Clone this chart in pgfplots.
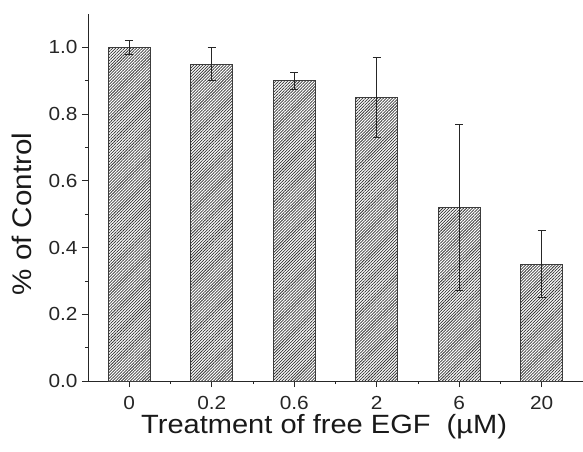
\documentclass[border=0pt]{standalone}
\usepackage{fontspec}
\setmainfont{Liberation Sans}[FakeStretch=1.1]
\usepackage{pgfplots}
\pgfplotsset{compat=1.18}
\usetikzlibrary{patterns.meta}
\definecolor{barline}{RGB}{60,60,60}
\begin{document}
\begin{tikzpicture}
\begin{axis}[
  scale only axis,
  width=495bp, height=367bp,
  xmin=-0.5, xmax=5.5,
  ymin=0, ymax=1.1,
  axis lines=left,
  axis line style={-, line width=0.9bp, black!85},
  xtick={0,1,2,3,4,5},
  xticklabels={0,0.2,0.6,2,6,20},
  minor xtick={0.5,1.5,2.5,3.5,4.5},
  ytick={0,0.2,0.4,0.6,0.8,1.0},
  minor ytick={0.1,0.3,0.5,0.7,0.9},
  yticklabel style={/pgf/number format/fixed, /pgf/number format/fixed zerofill, /pgf/number format/precision=1, xshift=-1bp},
  /pgf/number format/assume math mode=true,
  tick align=outside,
  major tick length=6bp,
  minor tick length=3bp,
  tick style={line width=0.8bp, black!85},
  ticklabel style={font=\fontsize{19}{21}\selectfont, text=black!85},
  xticklabel style={yshift=-6bp},
  xlabel={Treatment of free EGF\ \ (µM)},
  ylabel={\% of Control},
  every axis x label/.style={at={(axis description cs:0.477,-0.142)}, anchor=base, font=\fontsize{26.5}{30}\selectfont, text=black!90},
  every axis y label/.style={at={(axis description cs:-0.134,0.455)}, rotate=90, anchor=center, font=\fontsize{27}{30}\selectfont, text=black!90},
  clip=false,
]
\addplot[ybar, bar width=42bp, draw=barline, line width=0.9bp,
  pattern={Lines[angle=45, distance=2.1bp, line width=0.75bp]}, pattern color=black!80,
  error bars/.cd, y dir=both, y explicit,
  error bar style={line width=0.9bp, black!85}, error mark options={rotate=90, mark size=4bp, line width=0.9bp, black!85}]
  coordinates {
  (0,1.00) +- (0,0.02)
  (1,0.95) +- (0,0.05)
  (2,0.90) +- (0,0.025)
  (3,0.85) +- (0,0.12)
  (4,0.52) +- (0,0.25)
  (5,0.35) +- (0,0.10)
  };
\coordinate (O) at (rel axis cs:0,0);
\end{axis}
\pgfresetboundingbox
\path (O) ++(-88bp,-71bp) rectangle ++(583bp,452bp);
\end{tikzpicture}
\end{document}
